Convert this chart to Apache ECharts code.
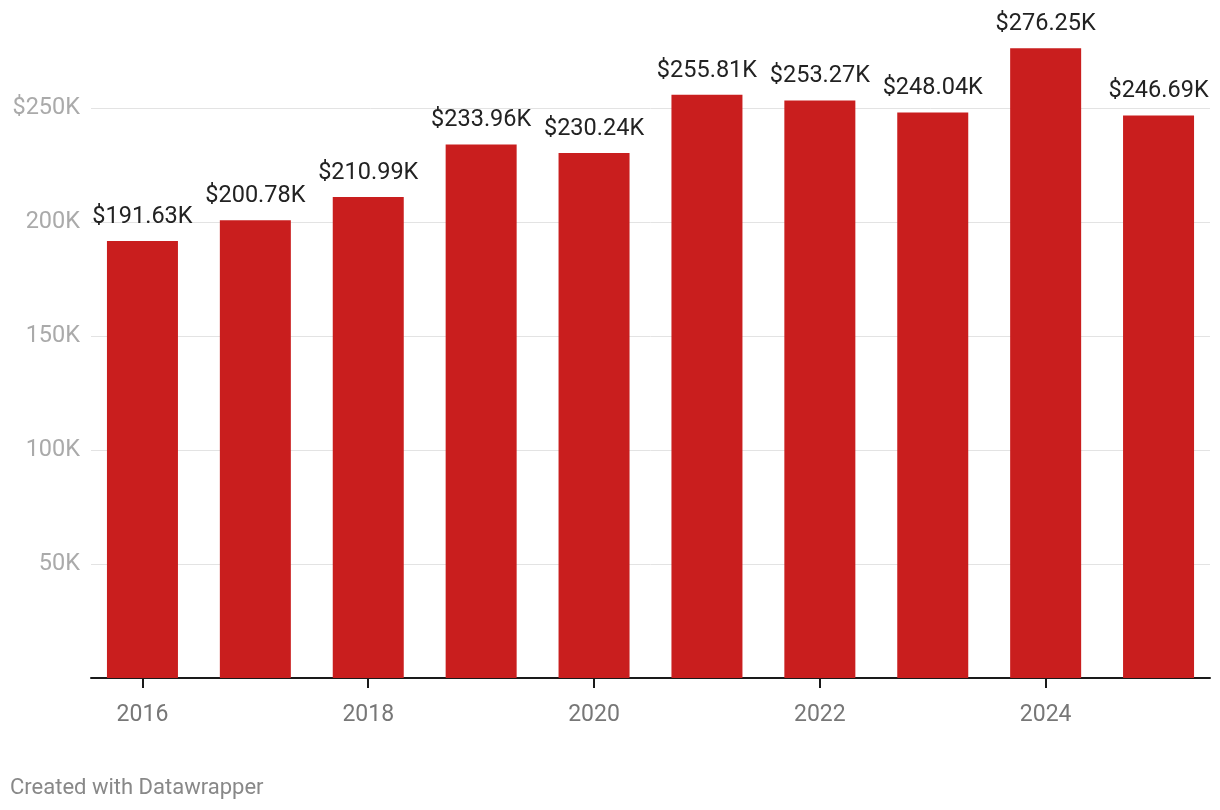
<!DOCTYPE html>
<html><head><meta charset="utf-8">
<script src="https://cdn.jsdelivr.net/npm/echarts@6/dist/echarts.min.js"></script>
<style>html,body{margin:0;padding:0;background:#fff}#c{width:1220px;height:810px}</style>
</head><body><div id="c"></div>
<script>
const years = ['2016','2017','2018','2019','2020','2021','2022','2023','2024','2025'];
const values = [191630, 200780, 210990, 233960, 230240, 255810, 253270, 248040, 276250, 246690];
const yTicks = [0, 50000, 100000, 150000, 200000, 250000];
const creditText = 'Created with Datawrapper';

const chart = echarts.init(document.getElementById('c'), null, {renderer: 'canvas'});
const FONT = 'Roboto';
const fmtVal = v => '$' + (v / 1000).toFixed(2) + 'K';
const fmtTick = v => v === 0 ? '' : (v === yTicks[yTicks.length - 1] ? '$' : '') + (v / 1000) + 'K';

chart.setOption({
  animation: false,
  grid: [
    {left: 91, right: 10, top: 108, bottom: 132},
    {left: 86, right: 5, top: 108, bottom: 132}
  ],
  xAxis: [
    {gridIndex: 0, type: 'value', min: 0, max: 1, axisLabel: {show: false}, axisTick: {show: false}, splitLine: {show: false},
     axisLine: {show: true, onZero: false, lineStyle: {color: '#1a1a1a', width: 2}}},
    {gridIndex: 1, type: 'category', data: years, axisLine: {show: false},
     axisTick: {show: true, alignWithLabel: true, interval: 1, length: 10, lineStyle: {color: '#1a1a1a', width: 2}},
     axisLabel: {interval: 1, margin: 26, color: '#777', fontSize: 23, fontFamily: FONT}}
  ],
  yAxis: [
    {gridIndex: 0, type: 'value', min: 0, max: 250000, interval: 50000,
     axisLine: {show: false}, axisTick: {show: false},
     splitLine: {show: true, lineStyle: {color: '#e3e3e3', width: 1}},
     axisLabel: {margin: 11, color: '#aaaaaa', fontSize: 23.5, fontFamily: FONT, formatter: fmtTick}},
    {gridIndex: 1, type: 'value', min: 0, max: 250000, show: false}
  ],
  series: [{
    type: 'bar', xAxisIndex: 1, yAxisIndex: 1, data: values, barWidth: 71, clip: false,
    itemStyle: {color: '#c91e1e'},
    label: {show: true, position: 'top', distance: 12, color: '#222', fontSize: 23.5, fontFamily: FONT, formatter: p => fmtVal(p.value)}
  }],
  graphic: [{type: 'text', left: 10, top: 777, style: {text: creditText, fill: '#888', fontSize: 22, fontFamily: FONT}}]
});
</script></body></html>
